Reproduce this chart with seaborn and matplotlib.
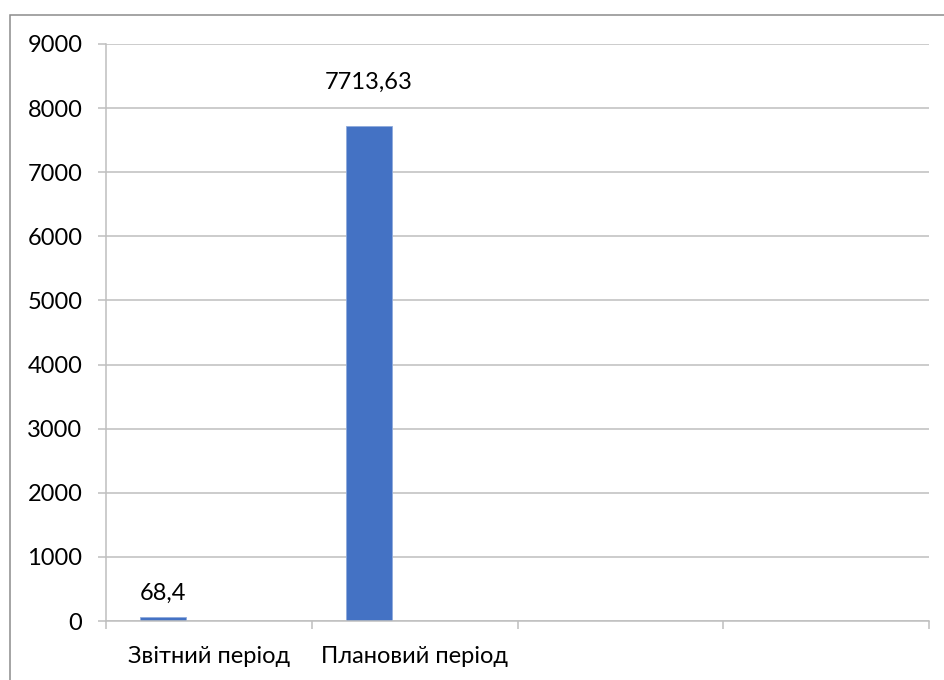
import pandas as pd
import matplotlib.pyplot as plt
import matplotlib.patches as mpatches
import seaborn as sns

sns.set_theme(style="white")
plt.rcParams["font.family"] = ["Lato", "DejaVu Sans"]
plt.rcParams["text.color"] = "black"
plt.rcParams["xtick.labelcolor"] = "black"
plt.rcParams["ytick.labelcolor"] = "black"

## DATA
categories = ["Звітний період", "Плановий період", " ", "  "]
series = ["Ряд 1", "Ряд 2", "Ряд 3"]
values = [68.4, 7713.63]
value_labels = ["68,4", "7713,63"]
y_ticks = [0, 1000, 2000, 3000, 4000, 5000, 6000, 7000, 8000, 9000]

df = pd.DataFrame({
    "category": categories[:len(values)],
    "series": series[0],
    "value": values,
})

FS = 17

## PLOT
fig = plt.figure(figsize=(9.44, 6.8), dpi=100)
ax = fig.add_axes([106 / 944, 59 / 680, (929 - 106) / 944, (621 - 44) / 680])

sns.barplot(data=df, x="category", y="value", hue="series",
            order=categories, hue_order=series, dodge=True,
            palette=["#4472C4"] * 3, saturation=1, width=3 / 4.5,
            edgecolor="#8faadc", linewidth=0.6,
            legend=False, ax=ax)

ax.set_xlim(-0.5, len(categories) - 0.5)
ax.set_ylim(0, 9000)
ax.set_yticks(y_ticks)
ax.set_yticklabels([str(t) for t in y_ticks], fontsize=FS)
ax.yaxis.grid(True, color="#bfbfbf", linewidth=1.1)
ax.set_axisbelow(True)

# category boundary ticks + centred labels
ax.set_xticks([i - 0.5 for i in range(len(categories) + 1)])
ax.set_xticklabels([])
ax.set_xticks(range(len(categories)), minor=True)
ax.set_xticklabels(["Звітний період", "Плановий період", "", ""], minor=True, fontsize=FS)
ax.tick_params(axis="x", which="major", bottom=True, length=6, width=1.1,
               color="#bfbfbf", direction="out")
ax.tick_params(axis="x", which="minor", bottom=True, length=0, pad=18)
ax.tick_params(axis="y", which="major", left=True, length=6, width=1.1,
               color="#bfbfbf", direction="out", pad=11)

for s in ["top", "right"]:
    ax.spines[s].set_visible(False)
for s in ["left", "bottom"]:
    ax.spines[s].set_color("#bfbfbf")
    ax.spines[s].set_linewidth(1.1)

ax.set_xlabel("")
ax.set_ylabel("")

# data labels above the first-series bars
label_offsets = [9, 24]
bars = ax.containers[0]
for bar, text, off in zip(bars, value_labels, label_offsets):
    ax.annotate(text, (bar.get_x() + bar.get_width() / 2, bar.get_height()),
                xytext=(0, off), textcoords="offset points",
                ha="center", va="bottom", fontsize=FS, color="black")

# outer chart frame
fig.patches.append(mpatches.Rectangle((10 / 944, -0.1), 1.2, (680 - 14.5) / 680 + 0.1,
                                      transform=fig.transFigure, fill=False,
                                      edgecolor="#8c8c8c", linewidth=1.1))

fig.savefig("out.png", dpi=100)
